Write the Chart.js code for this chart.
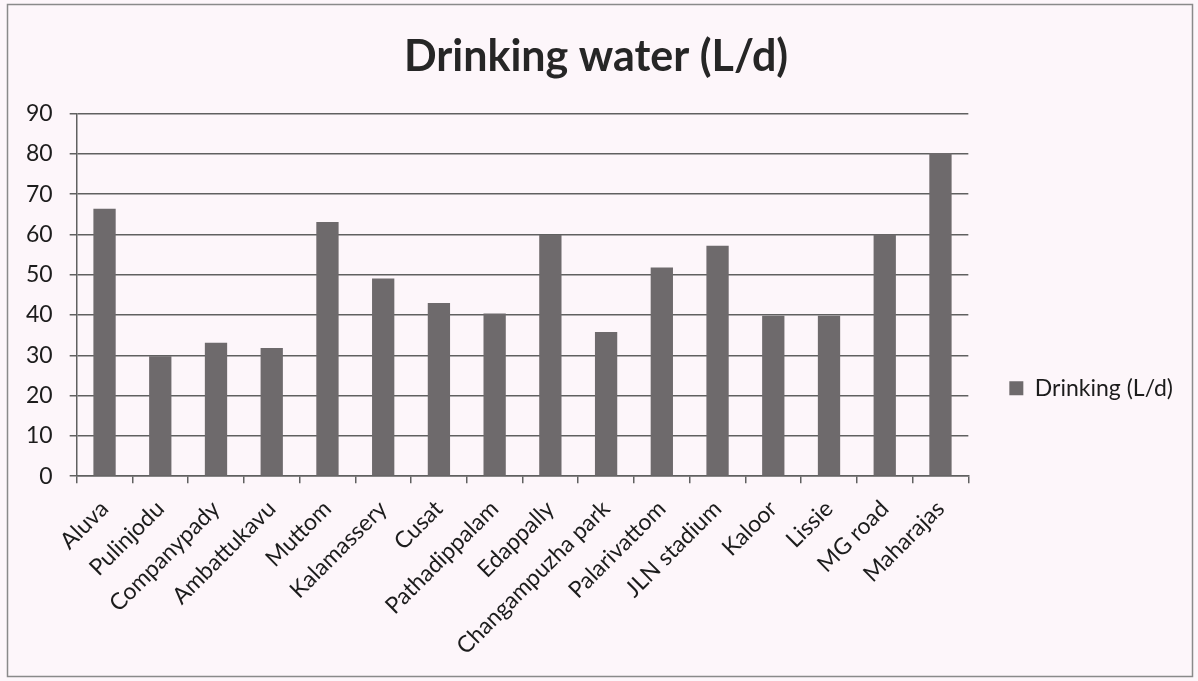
<!DOCTYPE html>
<html>
<head>
<meta charset="utf-8">
<script src="https://cdn.jsdelivr.net/npm/chart.js@4"></script>
<style>
  html, body { margin: 0; padding: 0; background: #fdf6fa; }
  canvas { display: block; }
</style>
</head>
<body>
<canvas id="waterChart" width="1198" height="681"></canvas>
<script>
const stations = ['Aluva', 'Pulinjodu', 'Companypady', 'Ambattukavu', 'Muttom', 'Kalamassery', 'Cusat',
  'Pathadippalam', 'Edappally', 'Changampuzha park', 'Palarivattom', 'JLN stadium', 'Kaloor', 'Lissie',
  'MG road', 'Maharajas'];
const drinking = [66.4, 29.8, 33.1, 31.8, 63.1, 49.1, 43.0, 40.4, 59.9, 35.8, 51.8, 57.2, 39.8, 39.8, 60, 80.2];
const yTicks = [0, 10, 20, 30, 40, 50, 60, 70, 80, 90];

const fontName = 'Lato, "Open Sans", sans-serif';
const inkColor = '#1c1c1c';
const lineColor = '#606060';

// page frame: tinted background and thin gray border like the pasted office chart
const framePlugin = {
  id: 'frame',
  beforeDraw(chart) {
    const ctx = chart.ctx;
    ctx.save();
    ctx.fillStyle = '#fdf6fa';
    ctx.fillRect(0, 0, chart.width, chart.height);
    ctx.strokeStyle = '#8a8a8a';
    ctx.lineWidth = 1.5;
    ctx.strokeRect(7.5, 4.5, 1185, 672);
    ctx.restore();
  }
};

new Chart(document.getElementById('waterChart'), {
  type: 'bar',
  data: {
    labels: stations,
    datasets: [{
      label: 'Drinking (L/d)',
      data: drinking,
      backgroundColor: '#6e6a6c',
      borderWidth: 0,
      categoryPercentage: 1,
      barPercentage: 0.4
    }]
  },
  options: {
    responsive: false,
    animation: false,
    layout: { padding: { top: 18, left: 9, right: 15, bottom: 9 } },
    plugins: {
      title: {
        display: true,
        text: 'Drinking water (L/d)',
        color: '#262626',
        font: { family: fontName, size: 43, weight: 'bold' },
        padding: { top: 13, bottom: 31 }
      },
      legend: {
        position: 'right',
        // empty legend title only used to push the entry lower, as in the original
        title: { display: true, text: '', padding: 36 },
        labels: {
          color: inkColor,
          font: { family: fontName, size: 23 },
          boxWidth: 14,
          boxHeight: 14,
          padding: 41
        }
      },
      tooltip: { enabled: false }
    },
    scales: {
      x: {
        border: { color: lineColor, width: 1.5 },
        grid: { display: true, drawOnChartArea: false, offset: true, color: lineColor, lineWidth: 1.5, tickLength: 7 },
        ticks: {
          color: inkColor,
          font: { family: fontName, size: 23 },
          autoSkip: false,
          maxRotation: 45,
          minRotation: 45,
          padding: 12
        }
      },
      y: {
        min: 0,
        max: 90,
        afterBuildTicks(axis) { axis.ticks = yTicks.map(v => ({ value: v })); },
        border: { color: lineColor, width: 1.5 },
        grid: { color: lineColor, lineWidth: 1.5, tickLength: 7 },
        ticks: {
          color: inkColor,
          font: { family: fontName, size: 23 },
          padding: 17
        }
      }
    }
  },
  plugins: [framePlugin]
});
</script>
</body>
</html>
